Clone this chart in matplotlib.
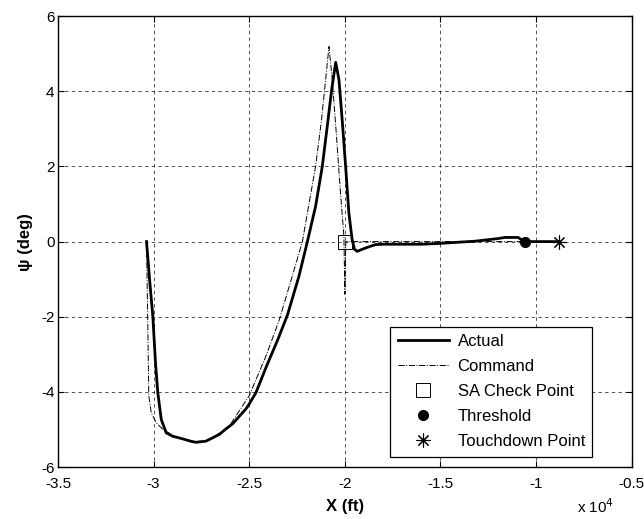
"""
Heading angle psi vs. along-track distance X (approach to touchdown)
"""

import matplotlib
matplotlib.use("Agg")
import matplotlib.pyplot as plt

# X in units of 10^4 ft, psi in deg
actual_x = [-3.037, -3.021, -3.004, -2.99, -2.978, -2.96, -2.934, -2.90, -2.847, -2.80,
            -2.778, -2.726, -2.656, -2.621, -2.587, -2.517, -2.50, -2.465, -2.41, -2.35,
            -2.30, -2.24, -2.196, -2.153, -2.118, -2.092, -2.069, -2.048, -2.031, -2.014,
            -1.996, -1.979, -1.962, -1.95, -1.936, -1.892, -1.84, -1.80, -1.70, -1.60,
            -1.51, -1.45, -1.32, -1.20, -1.163, -1.094, -1.068, -1.05, -0.88]
actual_y = [0.0, -1.01, -1.99, -3.23, -4.02, -4.73, -5.09, -5.18, -5.25, -5.32,
            -5.34, -5.31, -5.13, -4.98, -4.85, -4.45, -4.32, -4.02, -3.32, -2.6,
            -1.95, -0.92, 0.0, 0.94, 2.0, 3.07, 4.04, 4.77, 4.31, 3.24,
            2.0, 0.76, 0.05, -0.2, -0.26, -0.17, -0.08, -0.07, -0.07, -0.07,
            -0.05, -0.03, 0.01, 0.08, 0.11, 0.11, 0.02, 0.0, 0.0]

command_x = [-3.037, -3.03, -3.025, -3.012, -2.986, -2.951, -2.90, -2.85, -2.78, -2.73,
             -2.691, -2.604, -2.50, -2.413, -2.344, -2.275, -2.222, -2.196, -2.153, -2.122,
             -2.097, -2.083, -2.066, -2.045, -2.023, -2.005, -2.0, -1.995, -0.88]
command_y = [0.0, -2.34, -4.11, -4.56, -4.82, -5.0, -5.15, -5.25, -5.32, -5.3,
             -5.22, -4.91, -4.1, -3.05, -2.1, -0.92, 0.0, 0.76, 2.0, 3.24,
             4.49, 5.19, 4.31, 2.89, 1.3, 0.14, -1.4, 0.0, 0.0]

sa_check = (-2.0, 0.0)
threshold = (-1.06, 0.0)
touchdown = (-0.88, 0.0)

x_ticks = [-3.5, -3, -2.5, -2, -1.5, -1, -0.5]
x_tick_labels = ["-3.5", "-3", "-2.5", "-2", "-1.5", "-1", "-0.5"]
y_ticks = [-6, -4, -2, 0, 2, 4, 6]


def plot_data():
    """Plot actual vs command heading"""
    plt.rcParams["font.family"] = ["Liberation Sans", "DejaVu Sans"]
    plt.rcParams["axes.unicode_minus"] = False
    fig = plt.figure(figsize=(6.44, 5.19), dpi=100)
    ax = fig.add_axes([0.090, 0.100, 0.891, 0.869])

    ax.plot(actual_x, actual_y, c="black", lw=2.0, label="Actual")
    ax.plot(command_x, command_y, c="black", lw=0.7, ls="-.", label="Command")
    ax.plot(*sa_check, ls="none", marker="s", ms=10, mfc="none", mec="black",
            mew=0.7, label="SA Check Point")
    ax.plot(*threshold, ls="none", marker="o", ms=7, c="black", label="Threshold")
    ax.plot(*touchdown, ls="none", marker=(8, 2, 0), ms=10, c="black", mew=0.8,
            label="Touchdown Point")

    # Axis range and ticks
    ax.set_xlim(-3.5, -0.5)
    ax.set_ylim(-6, 6)
    ax.set_xticks(x_ticks)
    ax.set_xticklabels(x_tick_labels)
    ax.set_yticks(y_ticks)
    ax.tick_params(direction="in", top=True, right=True, labelsize=11, length=4, width=0.8)
    ax.tick_params(axis="x", pad=7)
    ax.tick_params(axis="y", pad=2.5)
    ax.grid(True, color="black", ls=(0, (4, 4)), lw=0.6, alpha=0.8)
    for s in ax.spines.values():
        s.set_linewidth(1.0)

    ax.set_xlabel("X (ft)", fontsize=12, fontweight="bold", labelpad=6)
    ax.set_ylabel("ψ (deg)", fontsize=12, fontweight="bold", labelpad=6)
    fig.text(0.896, 0.012, r"x 10$^4$", fontsize=11)

    leg = ax.legend(loc="lower right", bbox_to_anchor=(0.9315, 0.023), fontsize=12,
                    fancybox=False, edgecolor="black", framealpha=1,
                    handlelength=3.1, handletextpad=0.5, borderpad=0.45,
                    labelspacing=0.6, borderaxespad=0)
    leg.get_frame().set_linewidth(0.9)

    plt.savefig("out.png", dpi=100)


if __name__ == "__main__":
    plot_data()
